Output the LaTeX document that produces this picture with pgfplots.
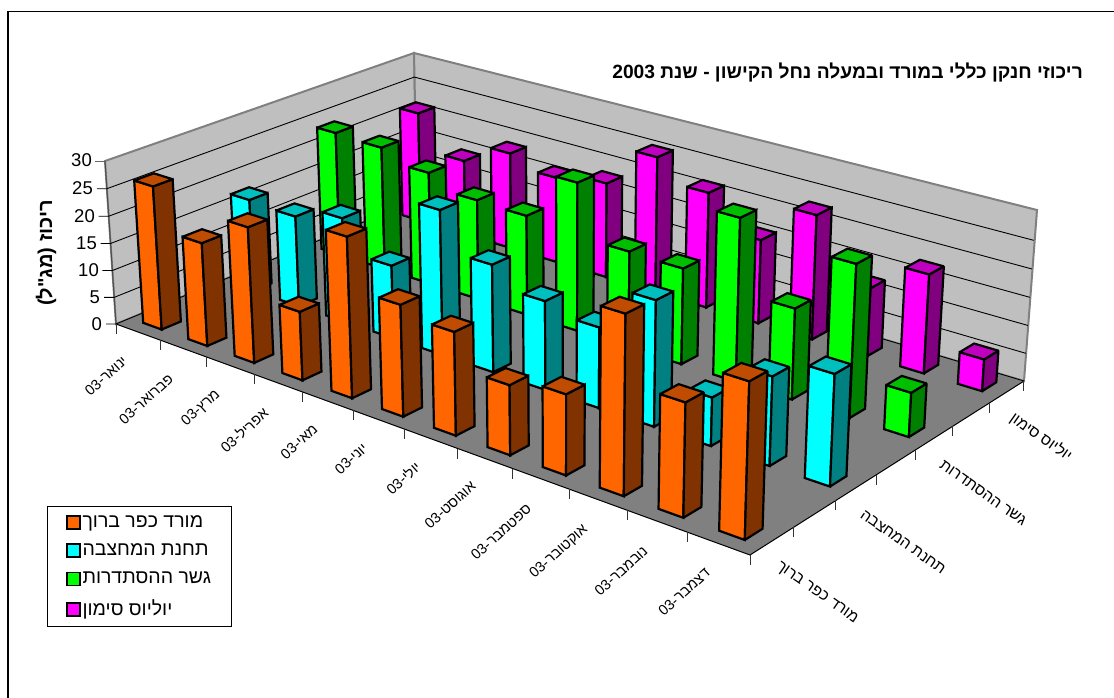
\documentclass[border=0pt]{standalone}
\usepackage{fontspec}
\setmainfont{Liberation Sans}
\newfontfamily\he[Script=Hebrew]{Liberation Sans}
\TeXXeTstate=1
\usepackage{pgfplots}
\usepackage{pgfplotstable}
\pgfplotsset{compat=1.18}

\definecolor{s0F}{HTML}{FF6600}\definecolor{s0S}{HTML}{803300}\definecolor{s0T}{HTML}{BF4C00}
\definecolor{s1F}{HTML}{00FFFF}\definecolor{s1S}{HTML}{008080}\definecolor{s1T}{HTML}{00BFBF}
\definecolor{s2F}{HTML}{00FF00}\definecolor{s2S}{HTML}{008000}\definecolor{s2T}{HTML}{00BF00}
\definecolor{s3F}{HTML}{FF00FF}\definecolor{s3S}{HTML}{800080}\definecolor{s3T}{HTML}{BF00BF}

% concentration per month, one column per station
\pgfplotstableread{
m  s0   s1   s2   s3
0  26.3 17.3 23.7 21.5
1  18.8 16.9 23.4 14.6
2  24.4 19.3 21.2 18.6
3  12.3 13.4 18.7 16.4
4  28.3 26.2 18.5 18.0
5  19.5 19.3 27.2 25.5
6  17.9 15.8 17.5 21.5
7  12.0 14.2 17.3 15.5
8  13.7 21.9 29.0 22.8
9  30.0  8.4 16.1 12.4
10 18.9 15.2 26.7 17.8
11 25.5 18.8  7.7  5.7
}\conc

% perspective of the chart box: u along months, v along stations, w up
\newcommand\proj[5]{%
  \pgfmathsetmacro\pd{1-0.16405*(#1)+0.11854*(#2)-0.024*(#3)}%
  \pgfmathsetmacro#4{(510.96*(#1)+350.43*(#2)-13.52*(#3)+116)/\pd}%
  \pgfmathsetmacro#5{(139.95*(#1)-100.29*(#2)-166.86*(#3)+324)/\pd}}

\newcommand\drawbar[4]{%
  \pgfmathsetmacro\ua{(#1+0.5)/12-0.0172}%
  \pgfmathsetmacro\ub{(#1+0.5)/12+0.0172}%
  \pgfmathsetmacro\va{(2*#2+0.5)/7-0.029}%
  \pgfmathsetmacro\vb{(2*#2+0.5)/7+0.029}%
  \pgfmathsetmacro\wt{#3/30}%
  \proj\ua\va{0}\xa\ya \proj\ub\va{0}\xb\yb \proj\ub\vb{0}\xc\yc
  \proj\ua\va\wt\xd\yd \proj\ub\va\wt\xe\ye \proj\ub\vb\wt\xf\yf \proj\ua\vb\wt\xg\yg
  \edef\doit{%
    \noexpand\addplot[forget plot,fill=#4F,draw=black,barline] coordinates {(\xa,\ya) (\xb,\yb) (\xe,\ye) (\xd,\yd)} -- cycle;
    \noexpand\addplot[forget plot,fill=#4S,draw=black,barline] coordinates {(\xb,\yb) (\xc,\yc) (\xf,\yf) (\xe,\ye)} -- cycle;
    \noexpand\addplot[forget plot,fill=#4T,draw=black,barline] coordinates {(\xd,\yd) (\xe,\ye) (\xf,\yf) (\xg,\yg)} -- cycle;}%
  \doit}

\newcommand\lrow{\rule[-5pt]{0pt}{16pt}}
\tikzset{barline/.style={line width=2.2pt,line join=miter,miter limit=2},
  mon/.style={font=\he\fontsize{14.5}{14.5}\selectfont,rotate=42,inner sep=0pt},
  stn/.style={font=\he\fontsize{15.5}{15.5}\selectfont,rotate=-35,inner sep=0pt},
  num/.style={font=\fontsize{18.5}{18.5}\selectfont,anchor=east,inner sep=0pt}}

\begin{document}
\begin{tikzpicture}
\path[use as bounding box] (0,0) rectangle (1114pt,698pt);
\begin{axis}[width=1114pt,height=698pt,scale only axis,at={(0,0)},
  xmin=0,xmax=1114,ymin=0,ymax=698,y dir=reverse,axis lines=none,clip=false,
  legend style={at={(0.0425,0.2755)},anchor=north west,draw=black,line width=1pt,fill=white,
    font=\he\fontsize{19.5}{19.5}\selectfont,row sep=11pt,inner xsep=18pt,inner ysep=7pt,cells={anchor=west}},
  legend image code/.code={\draw[#1,line width=1.7pt] (0pt,-7pt) rectangle (13pt,6pt);},
  legend cell align=left]

% frame: only the top and left sides fall inside the picture
\addplot[forget plot,black,line width=1.2pt] coordinates {(1114,11.5) (8,11.5) (8,698)};
% walls and floor
\addplot[forget plot,fill=black!25,draw=black!50,line width=2pt] coordinates {(116,324) (105,161) (414,53) (417,200)} -- cycle;
\addplot[forget plot,fill=black!25,draw=black!50,line width=2pt] coordinates {(417,200) (414,53) (1037,210) (1024,381)} -- cycle;
\addplot[forget plot,fill=black!50,draw=none] coordinates {(116,324) (750,555) (1024,381) (417,200)} -- cycle;
\addplot[forget plot,black,line width=1pt] coordinates {(116,324) (750,555) (1024,381)};
\addplot[forget plot,black!70,line width=1pt] coordinates {(105,161) (116,324)};

% grid lines and value ticks
\foreach \k in {0,...,5}{
  \pgfmathsetmacro\wk{\k/6}
  \proj{0}{0}{\wk}\xa\ya \proj{0}{1}{\wk}\xb\yb \proj{1}{1}{\wk}\xc\yc
  \pgfmathsetmacro\xt{\xa-10}
  \edef\doit{\noexpand\addplot[forget plot,black,line width=0.9pt] coordinates {(\xt,\ya) (\xa,\ya) (\xb,\yb) (\xc,\yc)};}
  \doit
}
\addplot[forget plot,black!60,line width=0.9pt] coordinates {(95,161) (105,161)};
% month ticks
\foreach \k in {0,...,12}{
  \pgfmathsetmacro\uk{\k/12}
  \proj{\uk}{0}{0}\xa\ya
  \pgfmathsetmacro\yt{\ya+10}
  \edef\doit{\noexpand\addplot[forget plot,black!80,line width=0.9pt] coordinates {(\xa,\ya) (\xa,\yt)};}
  \doit
}
% station ticks
\foreach \k in {1,...,7}{
  \pgfmathsetmacro\vk{\k/7}
  \proj{1}{\vk}{0}\xa\ya
  \pgfmathsetmacro\yt{\ya+10}
  \edef\doit{\noexpand\addplot[forget plot,black!80,line width=0.9pt] coordinates {(\xa,\ya) (\xa,\yt)};}
  \doit
}

% bars, back to front
\foreach \s in {3,2,1,0}{
  \foreach \m in {0,...,11}{
    \pgfplotstablegetelem{\m}{s\s}\of\conc
    \let\val\pgfplotsretval
    \drawbar{\m}{\s}{\val}{s\s}
  }
}

% legend
\addlegendimage{fill=s0F,draw=black}\addlegendentry{\lrow\beginR מורד כפר ברוך\endR}
\addlegendimage{fill=s1F,draw=black}\addlegendentry{\lrow\beginR תחנת המחצבה\endR}
\addlegendimage{fill=s2F,draw=black}\addlegendentry{\lrow\beginR גשר ההסתדרות\endR}
\addlegendimage{fill=s3F,draw=black}\addlegendentry{\lrow\beginR יוליוס סימון\endR}

% value labels
\node[num] at (axis cs:92,160) {30};
\node[num] at (axis cs:93,188) {25};
\node[num] at (axis cs:95,216) {20};
\node[num] at (axis cs:97,243) {15};
\node[num] at (axis cs:99,270) {10};
\node[num] at (axis cs:100,297) {5};
\node[num] at (axis cs:102,324) {0};

% month labels
\node[mon] at (axis cs:106,376) {\beginR ינואר-\beginL 03\endL\endR};
\node[mon] at (axis cs:146,399) {\beginR פברואר-\beginL 03\endL\endR};
\node[mon] at (axis cs:201,408) {\beginR מרץ-\beginL 03\endL\endR};
\node[mon] at (axis cs:244,430) {\beginR אפריל-\beginL 03\endL\endR};
\node[mon] at (axis cs:299,442) {\beginR מאי-\beginL 03\endL\endR};
\node[mon] at (axis cs:351,459) {\beginR יוני-\beginL 03\endL\endR};
\node[mon] at (axis cs:403,478) {\beginR יולי-\beginL 03\endL\endR};
\node[mon] at (axis cs:450,505) {\beginR אוגוסט-\beginL 03\endL\endR};
\node[mon] at (axis cs:501,532) {\beginR ספטמבר-\beginL 03\endL\endR};
\node[mon] at (axis cs:559,552) {\beginR אוקטובר-\beginL 03\endL\endR};
\node[mon] at (axis cs:621,571) {\beginR נובמבר-\beginL 03\endL\endR};
\node[mon] at (axis cs:684,592) {\beginR דצמבר-\beginL 03\endL\endR};

% station labels
\node[stn] at (axis cs:817,593) {\beginR מורד כפר ברוך\endR};
\node[stn] at (axis cs:903,542) {\beginR תחנת המחצבה\endR};
\node[stn] at (axis cs:983,493) {\beginR גשר ההסתדרות\endR};
\node[stn] at (axis cs:1041,437) {\beginR יוליוס סימון\endR};

% titles
\node[anchor=east,inner sep=0pt,font=\he\bfseries\fontsize{19.2}{19.2}\selectfont] at (axis cs:1083,73)
  {\beginR ריכוזי חנקן כללי במורד ובמעלה נחל הקישון - שנת \beginL 2003\endL\endR};
\node[rotate=90,inner sep=0pt,font=\he\bfseries\fontsize{20}{20}\selectfont] at (axis cs:46,253)
  {\beginR ריכוז (מג"ל)\endR};
\end{axis}
\end{tikzpicture}
\end{document}
